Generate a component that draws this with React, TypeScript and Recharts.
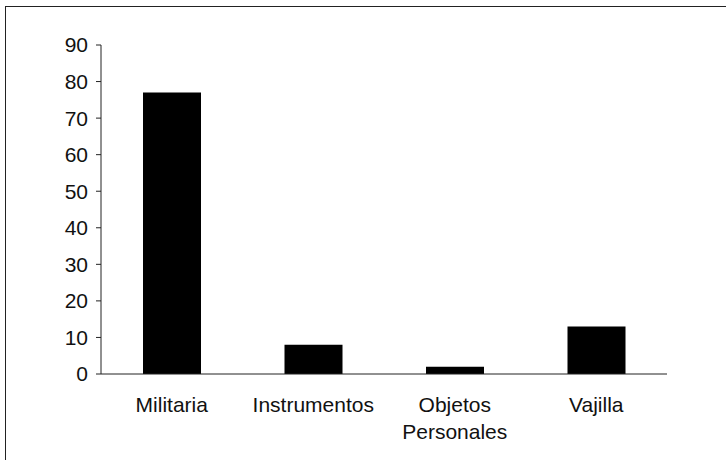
import { BarChart, Bar, XAxis, YAxis } from "recharts";

const categories = ["Militaria", "Instrumentos", "Objetos Personales", "Vajilla"];
const values = [77, 8, 2, 13];
const yTicks = [0, 10, 20, 30, 40, 50, 60, 70, 80, 90];

const FONT = "'Liberation Sans', Arial, sans-serif";

const CategoryTick = ({ x, y, payload }: any) => {
  const words = String(payload.value).split(" ");
  return (
    <text x={x} y={y} textAnchor="middle" fill="#111" fontFamily={FONT} fontSize={21}>
      {words.map((w, i) => (
        <tspan key={i} x={x} dy={i === 0 ? "0.71em" : 27}>
          {w}
        </tspan>
      ))}
    </text>
  );
};

export default function App() {
  const data = categories.map((name, i) => ({ name, value: values[i] }));
  return (
    <div style={{ position: "absolute", left: 0, top: 0, width: 726, height: 460, overflow: "hidden", background: "#fff" }}>
      <div
        style={{
          position: "absolute",
          left: 5,
          top: 6,
          width: 740,
          height: 480,
          border: "1px solid #222",
          boxSizing: "border-box",
        }}
      />
      <div style={{ position: "absolute", left: 0, top: 0 }}>
        <BarChart width={726} height={460} data={data} margin={{ top: 45, right: 59, left: 0, bottom: 0 }}>
          <XAxis
            dataKey="name"
            height={86}
            tickLine={false}
            tickSize={0}
            tickMargin={23}
            axisLine={{ stroke: "#222" }}
            interval={0}
            tick={<CategoryTick />}
          />
          <XAxis xAxisId="top" orientation="top" dataKey="name" height={0} tick={false} tickLine={false} axisLine={{ stroke: "#222" }} />
          <YAxis
            width={101}
            domain={[0, 90]}
            ticks={yTicks}
            interval={0}
            tickSize={5}
            tickMargin={8}
            tickLine={{ stroke: "#222" }}
            axisLine={{ stroke: "#222" }}
            tick={{ fill: "#111", fontSize: 21, fontFamily: FONT }}
          />
          <YAxis yAxisId="right" orientation="right" width={0} domain={[0, 90]} tick={false} tickLine={false} axisLine={{ stroke: "#222" }} />
          <Bar dataKey="value" fill="#000" barSize={58} isAnimationActive={false} />
        </BarChart>
      </div>
    </div>
  );
}
